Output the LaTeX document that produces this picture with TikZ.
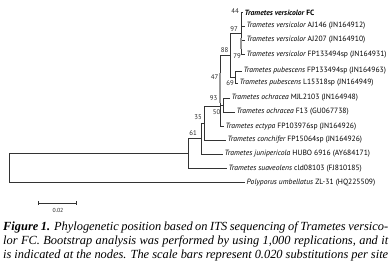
\documentclass[tikz,border=0pt]{standalone}
\usepackage{fontspec}
\setmainfont{Liberation Serif}
\setsansfont{PT Sans}
\usepackage{tikz}
\usetikzlibrary{arrows.meta}

\tikzset{
  branch/.style={line width=0.6pt, black!80},
  overlap/.style={line width=1.5pt, black!40},
  taxon/.style={font=\sffamily\fontsize{7.6}{9}\selectfont, anchor=west, inner xsep=1.5pt, inner ysep=0pt},
  boot/.style={font=\sffamily\fontsize{6.8}{8}\selectfont, black!85, inner sep=0pt},
  capline/.style={anchor=base west, inner sep=0pt, font=\fontsize{12.4}{14}\selectfont\itshape}
}

\begin{document}
\begin{tikzpicture}[x=1pt, y=-1pt]
  \useasboundingbox (0,0) rectangle (391,270);

  % Internal nodes of the tree
  \coordinate (root) at (9,168);
  \coordinate (n61root) at (188,153.5);
  \coordinate (n61) at (201,138.5);
  \coordinate (n35) at (204,123);
  \coordinate (n47) at (220,106);
  \coordinate (n88) at (230,55);
  \coordinate (n44) at (241,33.5);
  \coordinate (n69) at (235,77);
  \coordinate (n50) at (223,105);

  % Taxa
  \node[taxon] (fc) at (243,12.5) {\bfseries\itshape Trametes versicolor \upshape FC};
  \node[taxon] (aj146) at (245,26) {\itshape Trametes versicolor \upshape AJ146 (JN164912)};
  \node[taxon] (aj207) at (245,40) {\itshape Trametes versicolor \upshape AJ207 (JN164910)};
  \node[taxon] (vfp) at (245,54.5) {\itshape Trametes versicolor \upshape FP133494sp (JN164931)};
  \node[taxon] (pfp) at (242,71) {\itshape Trametes pubescens \upshape FP133494sp (JN164963)};
  \node[taxon] (pl) at (238,83) {\itshape Trametes pubescens \upshape L15318sp (JN164949)};
  \node[taxon] (omjl) at (230,98) {\itshape Trametes ochracea \upshape MJL2103 (JN164948)};
  \node[taxon] (of13) at (235,112) {\itshape Trametes ochracea \upshape F13 (GU067738)};
  \node[taxon] (ecty) at (224,126.5) {\itshape Trametes ectypa \upshape FP103976sp (JN164926)};
  \node[taxon] (conc) at (226,140) {\itshape Trametes conchifer \upshape FP15064sp (JN164926)};
  \node[taxon] (juni) at (223,154) {\itshape Trametes junipericola \upshape HUBO 6916 (AY684171)};
  \node[taxon] (suav) at (227,168.5) {\itshape Trametes suaveolens \upshape cld08103 (FJ810185)};
  \node[taxon] (poly) at (245,182.5) {\itshape Polyporus umbellatus \upshape ZL-31 (HQ225509)};

  % Branches
  \draw[branch] (root) |- (n61root);
  \draw[branch] (root) |- (poly.west);
  \draw[branch] (n61root) |- (n61);
  \draw[branch] (n61root) |- (suav.west);
  \draw[branch] (n61) |- (n35);
  \draw[branch] (n61) |- (juni.west);
  \draw[branch] (n35) |- (n47);
  \draw[branch] (n35) |- (conc.west);
  \draw[branch] (n47) |- (n88);
  \draw[branch] (n47) |- (n50);
  \draw[branch] (n47) |- (ecty.west);
  \draw[branch] (n50) |- (omjl.west);
  \draw[branch] (n50) |- (of13.west);
  \draw[branch] (n88) |- (n44);
  \draw[branch] (n88) |- (n69);
  \draw[branch] (n69) |- (pfp.west);
  \draw[branch] (n69) |- (pl.west);
  \foreach \t in {fc,aj146,aj207,vfp} {
    \draw[branch] (n44) |- (\t.west);
  }
  % overlapping short branches
  \draw[overlap] ([yshift=33pt]n47) -- ([yshift=3pt]n47);
  \draw[overlap] ([yshift=-5pt]n44) -- ([yshift=-16pt]n44);

  % Bootstrap values
  \node[boot] (b44) at (235,11.5) {44};
  \node[boot] (b97) at (234,29) {97};
  \node[boot] (b88) at (224.5,50.5) {88};
  \node[boot] (b79) at (237,56) {79};
  \node[boot] (b47) at (214.5,77) {47};
  \node[boot] (b69) at (230,83.5) {69};
  \node[boot] (b93) at (213.5,98) {93};
  \node[boot] (b50) at (216.5,112.5) {50};
  \node[boot] (b35) at (198,117) {35};
  \node[boot] (b61) at (193,133.5) {61};

  % Scale bar
  \coordinate (sbl) at (38,203);
  \coordinate (sbr) at (77,203);
  \draw[branch, {Bar[width=4pt]}-{Bar[width=4pt]}] (sbl) -- (sbr);
  \node[boot, font=\sffamily\fontsize{5.8}{7}\selectfont] (sblabel) at (58,210.5) {0.02};

  % Caption
  \node[capline] (cap1) at (3,230) {\makebox[385pt][s]{\textbf{Figure 1.} Phylogenetic position based on ITS sequencing of Trametes versico-}};
  \node[capline] (cap2) at (3,244) {\makebox[385pt][s]{lor FC. Bootstrap analysis was performed by using 1,000 replications, and it}};
  \node[capline] (cap3) at (3,258) {\makebox[385pt][s]{is indicated at the nodes. The scale bars represent 0.020 substitutions per site}};
\end{tikzpicture}
\end{document}
